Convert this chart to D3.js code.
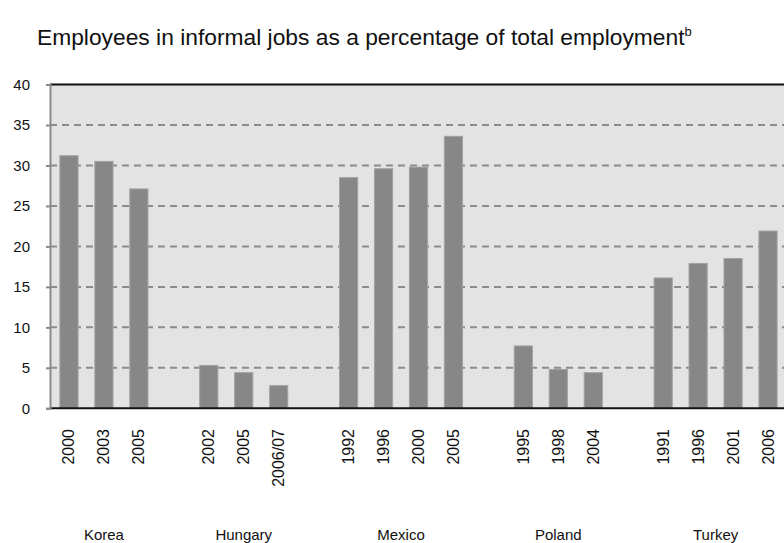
<!DOCTYPE html>
<html><head><meta charset="utf-8">
<script src="https://cdn.jsdelivr.net/npm/d3@7/dist/d3.min.js"></script>
<style>html,body{margin:0;padding:0;background:#fff;}svg{display:block;font-family:"Liberation Sans",Arial,sans-serif;}</style>
</head><body>
<svg id="chart" width="784" height="543"></svg>
<script>
const titleText = "Employees in informal jobs as a percentage of total employment";
const titleSup = "b";
const countries = ["Korea", "Hungary", "Mexico", "Poland", "Turkey"];
const koreaYears = ["2000", "2003", "2005"];
const koreaValues = [31.2, 30.5, 27.1];
const hungaryYears = ["2002", "2005", "2006/07"];
const hungaryValues = [5.3, 4.4, 2.8];
const mexicoYears = ["1992", "1996", "2000", "2005"];
const mexicoValues = [28.5, 29.6, 29.8, 33.6];
const polandYears = ["1995", "1998", "2004"];
const polandValues = [7.7, 4.8, 4.4];
const turkeyYears = ["1991", "1996", "2001", "2006"];
const turkeyValues = [16.1, 17.9, 18.5, 21.9];
const yTicks = [0, 5, 10, 15, 20, 25, 30, 35, 40];

const groups = [
  [koreaYears, koreaValues], [hungaryYears, hungaryValues], [mexicoYears, mexicoValues],
  [polandYears, polandValues], [turkeyYears, turkeyValues]
];
const slots = [];
const bars = [];
groups.forEach(([yrs, vals], gi) => {
  yrs.forEach((yr, i) => {
    const key = countries[gi] + "|" + yr;
    slots.push(key);
    bars.push({key, country: countries[gi], year: yr, value: vals[i]});
  });
  if (gi < groups.length - 1) slots.push("gap" + gi);
});

const svg = d3.select("#chart");
const mLeft = 50, mRight = 785.5, mTop = 84.5, mBottom = 408.3;

const x = d3.scaleBand().domain(slots).range([51.5, mRight]).padding(0);
const y = d3.scaleLinear().domain([0, 40]).range([mBottom, mTop]);
const barW = x.bandwidth() * 0.52;

svg.append("rect").attr("x", mLeft).attr("y", y(40)).attr("width", 784 - mLeft).attr("height", y(0) - y(40)).attr("fill", "#e3e3e3");

svg.append("g").selectAll("line").data(yTicks.filter(t => t > 0 && t < 40)).join("line")
  .attr("x1", mLeft).attr("x2", 784).attr("y1", d => y(d)).attr("y2", d => y(d))
  .attr("stroke", "#8c8c8c").attr("stroke-width", 2).attr("stroke-dasharray", "7,5");

svg.append("g").selectAll("rect").data(bars).join("rect")
  .attr("x", d => x(d.key) + (x.bandwidth() - barW) / 2)
  .attr("y", d => y(d.value))
  .attr("width", barW)
  .attr("height", d => y(0) - y(d.value))
  .attr("fill", "#878787").attr("stroke", "#a2a2a2").attr("stroke-width", 1);

svg.append("line").attr("x1", mLeft).attr("x2", 784).attr("y1", y(40)).attr("y2", y(40)).attr("stroke", "#111").attr("stroke-width", 2);
svg.append("line").attr("x1", mLeft).attr("x2", 784).attr("y1", y(0)).attr("y2", y(0)).attr("stroke", "#111").attr("stroke-width", 2);

const yAxis = d3.axisLeft(y).tickValues(yTicks).tickSize(4).tickPadding(16);
const ya = svg.append("g").attr("transform", `translate(${mLeft},0)`).call(yAxis);
ya.select(".domain").attr("stroke", "#8a8a8a").attr("stroke-width", 2);
ya.selectAll(".tick line").attr("stroke", "#8a8a8a").attr("stroke-width", 2);
ya.selectAll(".tick text").attr("font-size", 15).attr("fill", "#111").attr("font-family", "Liberation Sans, Arial, sans-serif");

svg.append("g").selectAll("text").data(bars).join("text")
  .attr("transform", d => `translate(${x(d.key) + x.bandwidth() / 2 + 5.5},429) rotate(-90)`)
  .attr("text-anchor", "end").attr("font-size", 16).attr("fill", "#111")
  .text(d => d.year);

svg.append("g").selectAll("text").data(countries).join("text")
  .attr("x", c => {
    const ks = bars.filter(b => b.country === c).map(b => x(b.key) + x.bandwidth() / 2);
    return (d3.min(ks) + d3.max(ks)) / 2;
  })
  .attr("y", 540).attr("text-anchor", "middle").attr("font-size", 15).attr("fill", "#111")
  .text(c => c);

const t = svg.append("text").attr("x", 37).attr("y", 45).attr("font-size", 22.8).attr("fill", "#111");
t.append("tspan").text(titleText);
t.append("tspan").attr("font-size", 13).attr("dy", -9).text(titleSup);
</script>
</body></html>
